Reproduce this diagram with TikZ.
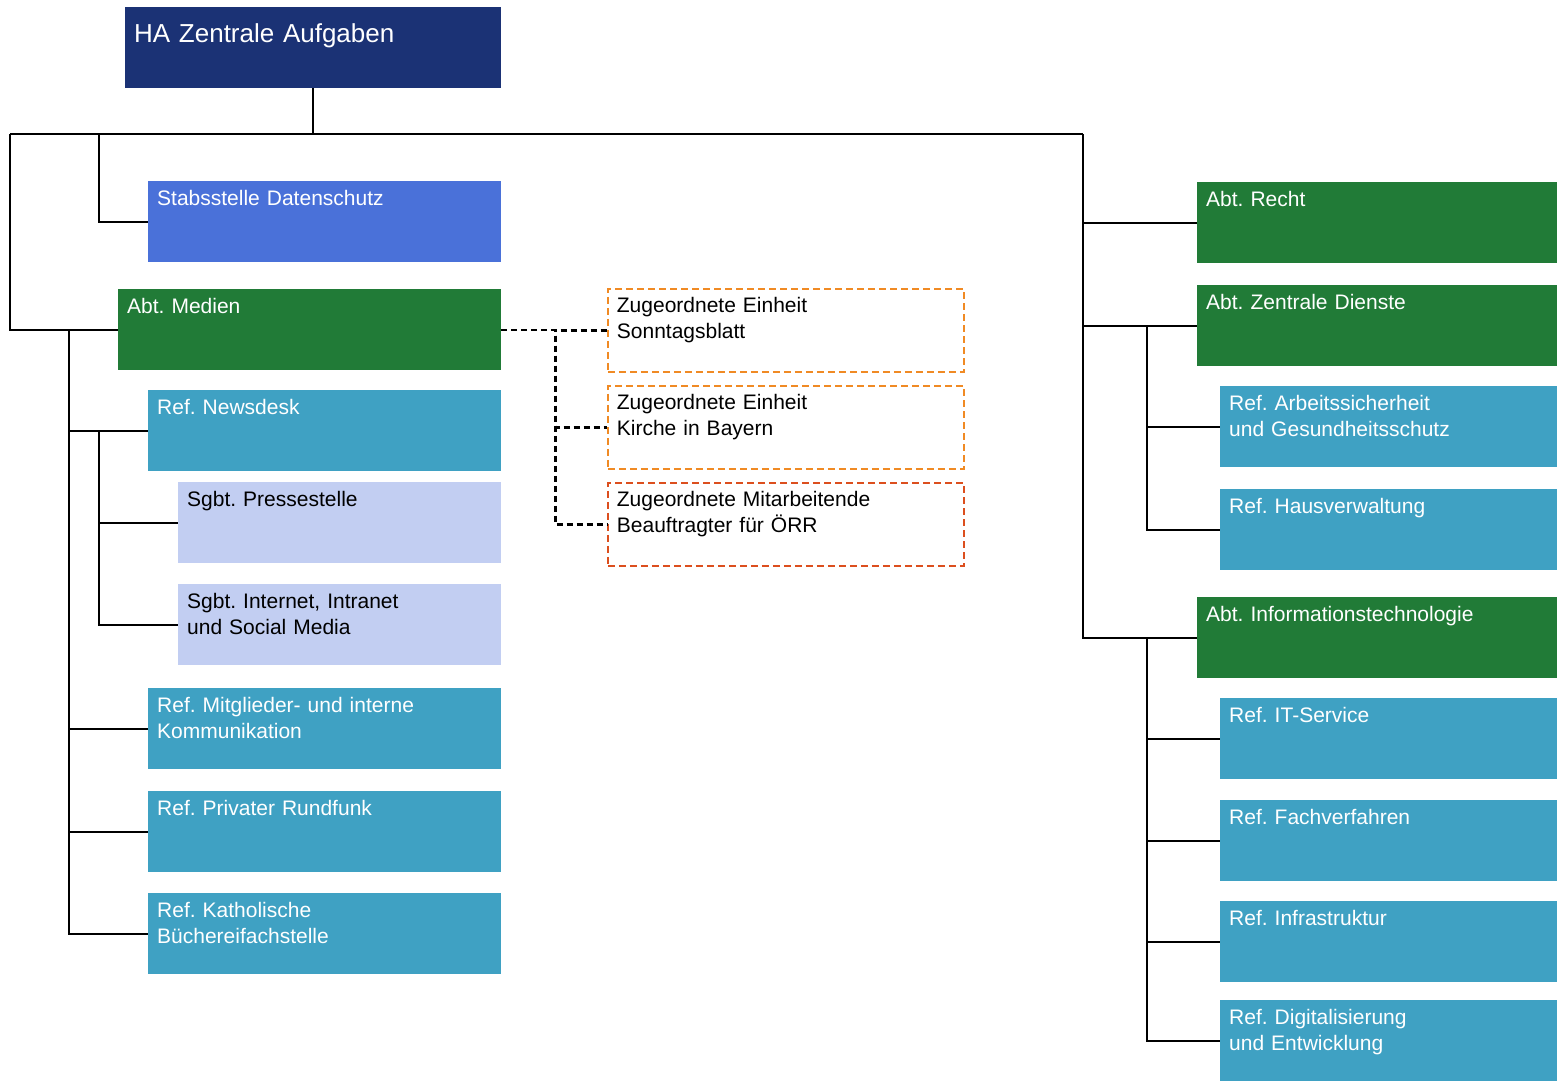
\documentclass[tikz,border=0pt]{standalone}
\usepackage{fontspec}
\setmainfont{Liberation Sans}
\usetikzlibrary{positioning}
\frenchspacing

\definecolor{navy}{HTML}{1B3275}
\definecolor{stabblue}{HTML}{4A71D9}
\definecolor{abtgreen}{HTML}{217B37}
\definecolor{refteal}{HTML}{3FA1C3}
\definecolor{sgbtlilac}{HTML}{C2CEF2}
\definecolor{zuorange}{HTML}{F08A24}
\definecolor{zured}{HTML}{DC4F1E}

\begin{document}
\begin{tikzpicture}[x=1pt, y=-1pt]
\tikzstyle{unit}=[rectangle, anchor=north west, inner xsep=9pt, inner ysep=0pt, align=left, text height=24pt, text depth=57pt, font=\fontsize{21}{26}\selectfont, text=white]
\tikzstyle{head}=[unit, fill=navy, text width=358pt, text height=35pt, text depth=46pt, font=\fontsize{26}{31}\selectfont]
\tikzstyle{stab}=[unit, fill=stabblue, text width=335pt]
\tikzstyle{abt}=[unit, fill=abtgreen, text width=342pt]
\tikzstyle{ref}=[unit, fill=refteal, text width=335pt]
\tikzstyle{sgbt}=[unit, fill=sgbtlilac, text=black, text width=305pt]
\tikzstyle{zu}=[unit, draw=zuorange, fill=white, line width=1.8pt, dash pattern=on 7pt off 4pt, text=black, text width=338pt, text depth=59pt]
\tikzstyle{line}=[draw, line width=2.2pt]
\tikzstyle{dline}=[draw, line width=2.2pt, dash pattern=on 6pt off 4pt]

\useasboundingbox (0,0) rectangle (1557,1080);

% Hauptabteilung
\node[head] at (125,7) (ha) {HA Zentrale Aufgaben};
\node[stab] at (148,181) (stabs) {Stabsstelle Datenschutz};

% Abt. Medien
\node[abt, text width=365pt] at (118,289) (medien) {Abt. Medien};
\node[ref] at (148,390) (newsdesk) {Ref. Newsdesk};
\node[sgbt] at (178,482) (presse) {Sgbt. Pressestelle};
\node[sgbt] at (178,584) (internet) {Sgbt. Internet, Intranet\\und Social Media};
\node[ref] at (148,688) (mitglieder) {Ref. Mitglieder- und interne\\Kommunikation};
\node[ref] at (148,791) (rundfunk) {Ref. Privater Rundfunk};
\node[ref] at (148,893) (buecherei) {Ref. Katholische\\Büchereifachstelle};

% zugeordnete Einheiten
\node[zu] at (607,288) (sonntag) {Zugeordnete Einheit\\Sonntagsblatt};
\node[zu] at (607,385) (kirche) {Zugeordnete Einheit\\Kirche in Bayern};
\node[zu, draw=zured] at (607,482) (beauftragt) {Zugeordnete Mitarbeitende\\Beauftragter für ÖRR};

% rechte Seite
\node[abt] at (1197,182) (recht) {Abt. Recht};
\node[abt] at (1197,285) (zd) {Abt. Zentrale Dienste};
\node[ref, text width=319pt] at (1220,386) (arbeit) {Ref. Arbeitssicherheit\\und Gesundheitsschutz};
\node[ref, text width=319pt] at (1220,489) (haus) {Ref. Hausverwaltung};
\node[abt] at (1197,597) (it) {Abt. Informationstechnologie};
\node[ref, text width=319pt] at (1220,698) (itservice) {Ref. IT-Service};
\node[ref, text width=319pt] at (1220,800) (fach) {Ref. Fachverfahren};
\node[ref, text width=319pt] at (1220,901) (infra) {Ref. Infrastruktur};
\node[ref, text width=319pt] at (1220,1000) (digi) {Ref. Digitalisierung\\und Entwicklung};

% Verbindungen
\coordinate (busL) at (10,134);
\coordinate (busR) at (1083,134);
\draw[line] (ha.south) -- (ha.south |- busL);
\draw[line] (busL) -- (busR);
\draw[line] (busL) |- (medien.west);
\draw[line] (busL -| stabs.west) ++(-49,0) |- (stabs.west);
\foreach \u in {recht,zd,it}
  \draw[line] (busR) |- (\u.west);
\foreach \u in {newsdesk,mitglieder,rundfunk,buecherei}
  \draw[line] (medien.west) ++(-49,0) |- (\u.west);
\foreach \u in {presse,internet}
  \draw[line] (newsdesk.west) ++(-49,0) |- (\u.west);
\foreach \u in {arbeit,haus}
  \draw[line] (zd.west) ++(-50,0) |- (\u.west);
\foreach \u in {itservice,fach,infra,digi}
  \draw[line] (it.west) ++(-50,0) |- (\u.west);
\foreach \u in {sonntag,kirche,beauftragt}
  \draw[dline] (medien.east) -- ++(54,0) |- (\u.west);
\end{tikzpicture}
\end{document}
